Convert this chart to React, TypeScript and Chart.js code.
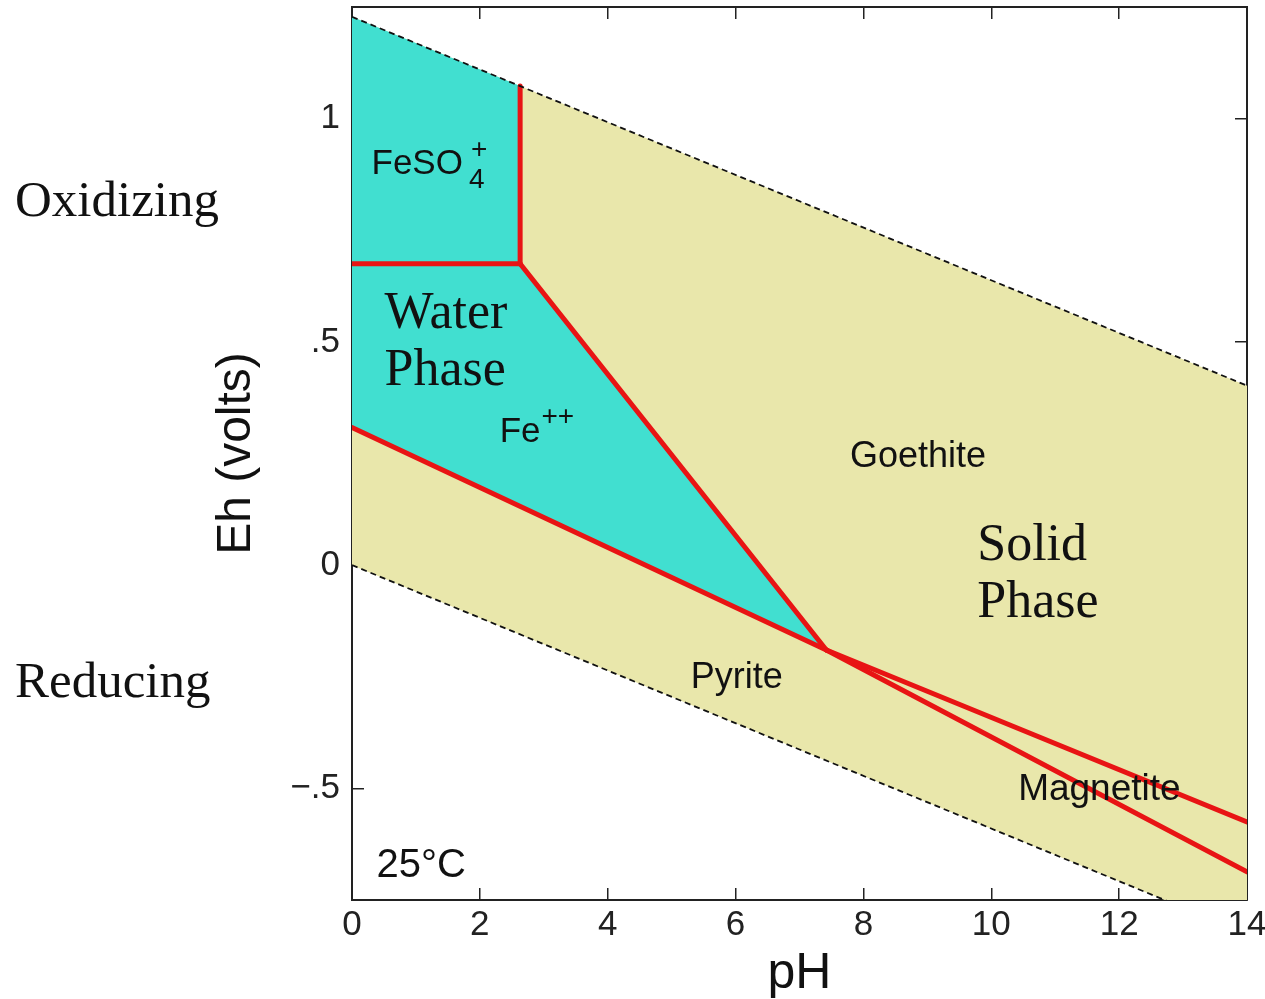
import { useEffect, useRef } from "react";
import { Chart, registerables } from "chart.js";

Chart.register(...registerables);

// ---- Axis ranges and ticks ----
const phRange = [0, 14];
const ehRange = [-0.75, 1.25];
const phTickValues = [0, 2, 4, 6, 8, 10, 12, 14];
const phTickLabels = ["0", "2", "4", "6", "8", "10", "12", "14"];
const ehTickValues = [-0.5, 0, 0.5, 1];
const ehTickLabels = ["\u2212.5", "0", ".5", "1"];

// ---- Water stability limits (dashed) ----
const upperWaterLine = [
  { x: 0, y: 1.228 },
  { x: 14, y: 0.402 },
];
const lowerWaterLine = [
  { x: 0, y: 0 },
  { x: 14, y: -0.826 },
];

// ---- Phase boundaries (red) ----
const feso4GoethiteBoundary = [
  { x: 2.63, y: 0.675 },
  { x: 2.63, y: 1.073 },
];
const feso4FeBoundary = [
  { x: 0, y: 0.675 },
  { x: 2.63, y: 0.675 },
];
const feGoethiteBoundary = [
  { x: 2.63, y: 0.675 },
  { x: 7.42, y: -0.19 },
];
const fePyriteBoundary = [
  { x: 0, y: 0.308 },
  { x: 7.42, y: -0.19 },
];
const goethiteMagnetiteBoundary = [
  { x: 7.42, y: -0.19 },
  { x: 14, y: -0.575 },
];
const magnetitePyriteBoundary = [
  { x: 7.42, y: -0.19 },
  { x: 14, y: -0.687 },
];

// ---- Filled regions ----
const stabilityRegion = [
  { x: 0, y: 1.228 },
  { x: 14, y: 0.402 },
  { x: 14, y: -0.826 },
  { x: 0, y: 0 },
];
const aqueousRegion = [
  { x: 0, y: 1.228 },
  { x: 2.63, y: 1.073 },
  { x: 2.63, y: 0.675 },
  { x: 7.42, y: -0.19 },
  { x: 0, y: 0.308 },
];

// ---- Text annotations (pH / Eh anchor = left baseline) ----
const SANS = "'Liberation Sans', Arial, sans-serif";
const SERIF = "'Liberation Serif', 'Times New Roman', serif";
const regionLabels = [
  { text: "FeSO", ph: 0.305, eh: 0.877, font: `35px ${SANS}`, sub: "4", sup: "+" },
  { text: "Water", ph: 0.509, eh: 0.532, font: `52px ${SERIF}` },
  { text: "Phase", ph: 0.509, eh: 0.404, font: `52px ${SERIF}` },
  { text: "Fe", ph: 2.31, eh: 0.276, font: `35px ${SANS}`, sup: "++" },
  { text: "Goethite", ph: 7.79, eh: 0.22, font: `36px ${SANS}` },
  { text: "Solid", ph: 9.78, eh: 0.012, font: `52px ${SERIF}` },
  { text: "Phase", ph: 9.78, eh: -0.116, font: `52px ${SERIF}` },
  { text: "Pyrite", ph: 5.3, eh: -0.275, font: `36px ${SANS}` },
  { text: "Magnetite", ph: 10.42, eh: -0.526, font: `37px ${SANS}` },
  { text: "25\u00B0C", ph: 0.384, eh: -0.699, font: `40px ${SANS}` },
];
const sideLabels = [
  { text: "Oxidizing", eh: 0.781 },
  { text: "Reducing", eh: -0.295 },
];

const TURQUOISE = "#41DFD0";
const KHAKI = "#E9E7AB";
const RED = "#E81414";

const labelPlugin = {
  id: "phaseLabels",
  afterDatasetsDraw(chart: any) {
    const { ctx, scales } = chart;
    const xs = scales.x;
    const ys = scales.y;
    ctx.save();
    ctx.fillStyle = "#111";
    ctx.textAlign = "left";
    ctx.textBaseline = "alphabetic";
    for (const lab of regionLabels as any[]) {
      const px = xs.getPixelForValue(lab.ph);
      const py = ys.getPixelForValue(lab.eh);
      ctx.font = lab.font;
      ctx.fillText(lab.text, px, py);
      const w = ctx.measureText(lab.text).width;
      ctx.font = `28px ${SANS}`;
      if (lab.sub) ctx.fillText(lab.sub, px + w + 6, py + 14);
      if (lab.sup) {
        const dx = lab.sub ? 8 : 1;
        const dy = lab.sub ? -16 : -17;
        ctx.fillText(lab.sup, px + w + dx, py + dy);
      }
    }
    ctx.font = `51px ${SERIF}`;
    for (const lab of sideLabels) {
      ctx.fillText(lab.text, 15, ys.getPixelForValue(lab.eh));
    }
    ctx.restore();
  },
};

const axisGrid = {
  display: true,
  drawOnChartArea: false,
  drawTicks: true,
  tickLength: -12,
  color: "#222",
  lineWidth: 1.5,
};
const axisBorder = { display: true, color: "#222", width: 2 };

const fixSize = (prop: "width" | "height", size: number) => (s: any) => {
  s[prop] = size;
  s.paddingTop = 0;
  s.paddingBottom = 0;
  s.paddingLeft = 0;
  s.paddingRight = 0;
};

export default function App() {
  const canvasRef = useRef<HTMLCanvasElement | null>(null);

  useEffect(() => {
    if (!canvasRef.current) return;
    const lineDs = (label: string, data: any[], extra: any) => ({
      label,
      data,
      xAxisID: "x",
      yAxisID: "y",
      pointRadius: 0,
      fill: false,
      tension: 0,
      ...extra,
    });
    const red = { borderColor: RED, borderWidth: 5, borderCapStyle: "round", borderJoinStyle: "round", order: 2 };
    const dashed = { borderColor: "#111", borderWidth: 1.8, borderDash: [6, 4], order: 1 };

    const chart = new Chart(canvasRef.current, {
      type: "line",
      data: {
        datasets: [
          lineDs("Stability field", stabilityRegion, {
            fill: "shape",
            backgroundColor: KHAKI,
            borderWidth: 0,
            borderColor: "rgba(0,0,0,0)",
            order: 5,
          }),
          lineDs("Aqueous field", aqueousRegion, {
            fill: "shape",
            backgroundColor: TURQUOISE,
            borderWidth: 0,
            borderColor: "rgba(0,0,0,0)",
            order: 4,
          }),
          lineDs("FeSO4+/Goethite", feso4GoethiteBoundary, red),
          lineDs("FeSO4+/Fe++", feso4FeBoundary, red),
          lineDs("Fe++/Goethite", feGoethiteBoundary, red),
          lineDs("Fe++/Pyrite", fePyriteBoundary, red),
          lineDs("Goethite/Magnetite", goethiteMagnetiteBoundary, red),
          lineDs("Magnetite/Pyrite", magnetitePyriteBoundary, red),
          lineDs("Upper water limit", upperWaterLine, dashed),
          lineDs("Lower water limit", lowerWaterLine, dashed),
        ],
      },
      options: {
        responsive: false,
        animation: false,
        events: [],
        devicePixelRatio: 1,
        layout: { padding: 0 },
        plugins: {
          legend: { display: false },
          tooltip: { enabled: false },
          filler: { propagate: false },
        },
        scales: {
          x: {
            type: "linear",
            position: "bottom",
            min: phRange[0],
            max: phRange[1],
            afterBuildTicks: (s: any) => {
              s.ticks = phTickValues.map((v) => ({ value: v }));
            },
            afterFit: fixSize("height", 99),
            ticks: {
              callback: (_v: any, i: number) => phTickLabels[i],
              font: { size: 35, family: SANS },
              color: "#222",
              padding: 16,
              maxRotation: 0,
              autoSkip: false,
            },
            grid: axisGrid,
            border: axisBorder,
            title: {
              display: true,
              text: "pH",
              color: "#111",
              font: { size: 50, family: SANS, lineHeight: 1 },
              padding: { top: 1, bottom: 0 },
            },
          },
          x2: {
            type: "linear",
            position: "top",
            min: phRange[0],
            max: phRange[1],
            afterBuildTicks: (s: any) => {
              s.ticks = phTickValues.map((v) => ({ value: v }));
            },
            afterFit: fixSize("height", 7),
            ticks: { display: false },
            grid: axisGrid,
            border: axisBorder,
          },
          y: {
            type: "linear",
            position: "left",
            min: ehRange[0],
            max: ehRange[1],
            afterBuildTicks: (s: any) => {
              s.ticks = ehTickValues.map((v) => ({ value: v }));
            },
            afterFit: fixSize("width", 352),
            ticks: {
              callback: (_v: any, i: number) => ehTickLabels[i],
              font: { size: 35, family: SANS },
              color: "#222",
              padding: 24,
              autoSkip: false,
            },
            grid: axisGrid,
            border: axisBorder,
            title: {
              display: true,
              text: "Eh (volts)",
              color: "#111",
              font: { size: 48, family: SANS, lineHeight: 1 },
              padding: { top: 213, bottom: 0 },
            },
          },
          y2: {
            type: "linear",
            position: "right",
            min: ehRange[0],
            max: ehRange[1],
            afterBuildTicks: (s: any) => {
              s.ticks = ehTickValues.map((v) => ({ value: v }));
            },
            afterFit: fixSize("width", 18),
            ticks: { display: false },
            grid: axisGrid,
            border: axisBorder,
          },
        },
      } as any,
      plugins: [labelPlugin],
    });
    return () => chart.destroy();
  }, []);

  return (
    <div style={{ position: "absolute", left: 0, top: 0, width: 1265, height: 999, background: "#fff" }}>
      <canvas ref={canvasRef} width={1265} height={999} style={{ display: "block" }} />
    </div>
  );
}
